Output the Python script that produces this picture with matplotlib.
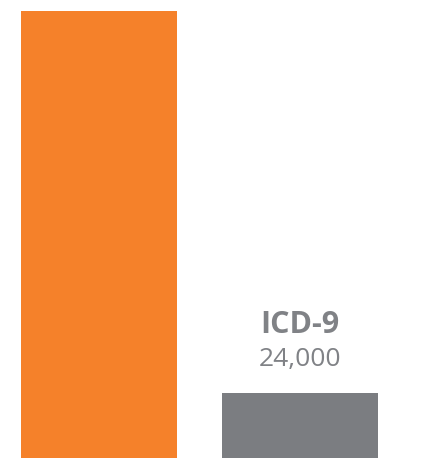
import matplotlib.pyplot as plt

codes = ["ICD-10", "ICD-9"]
counts = [165000, 24000]
colors = ["#f5812a", "#7b7d81"]
text_gray = "#808286"

fig = plt.figure(figsize=(4.22, 4.58), dpi=100)
ax = fig.add_axes([0, 0, 1, 1])
ax.bar(range(len(codes)), counts, width=0.776, color=colors)
ax.set_xlim(-0.4925, 1.607)
ax.set_ylim(0, 169108)
ax.axis("off")

# only the ICD-9 label is visible in the crop
ax.annotate(codes[1], (1, counts[1]), xytext=(0, 43.2), textcoords="offset points",
            ha="center", va="baseline", fontsize=22, fontweight="bold",
            family="Open Sans", color=text_gray)
ax.annotate(f"{counts[1]:,}", (1, counts[1]), xytext=(0, 19.4), textcoords="offset points",
            ha="center", va="baseline", fontsize=19,
            family="Open Sans", color=text_gray)

fig.savefig("out.png", dpi=100)
